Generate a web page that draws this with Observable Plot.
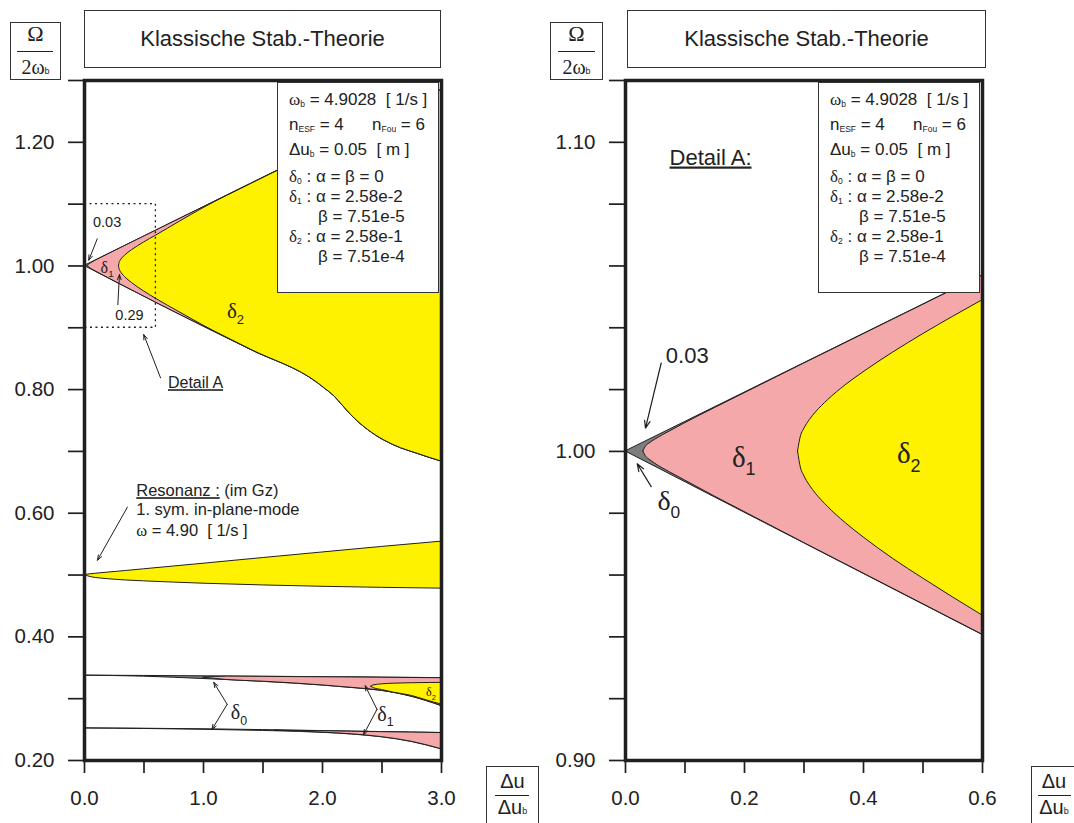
<!DOCTYPE html>
<html><head><meta charset="utf-8">
<script src="https://cdn.jsdelivr.net/npm/d3@7"></script>
<script src="https://cdn.jsdelivr.net/npm/@observablehq/plot@0.6"></script>
<style>
body{margin:0;background:#fff;}
#wrap{position:relative;width:1074px;height:823px;overflow:hidden;font-family:"Liberation Sans",Arial,sans-serif;color:#222;}
.box{position:absolute;border:1px solid #333;background:#fff;box-sizing:border-box;}
.title{display:flex;align-items:center;justify-content:center;font-size:22px;}
.g{font-family:"Liberation Serif","Times New Roman",serif;}
.leg div{position:absolute;white-space:nowrap;font-size:17px;line-height:18px;}
.leg sub{font-size:8.5px;vertical-align:-2px;line-height:0;}
.frac div{position:absolute;}
</style></head>
<body><div id="wrap">
<div class="box title" style="left:84px;top:10px;width:357px;height:58px">Klassische Stab.-Theorie</div>
<div class="box title" style="left:627px;top:10px;width:359px;height:58px">Klassische Stab.-Theorie</div>

<div class="box frac" style="left:10px;top:22px;width:51px;height:58px">
  <div class="g" style="left:0;width:100%;top:0px;text-align:center;font-size:22px;line-height:22px">Ω</div>
  <div style="left:6px;width:36px;top:28px;border-top:1.5px solid #222"></div>
  <div class="g" style="left:0;width:100%;top:33px;text-align:center;font-size:20px;line-height:22px">2ω<span style="font-family:'Liberation Sans';font-size:9px">b</span></div>
</div>
<div class="box frac" style="left:550px;top:22px;width:53px;height:58px">
  <div class="g" style="left:0;width:100%;top:0px;text-align:center;font-size:22px;line-height:22px">Ω</div>
  <div style="left:7px;width:37px;top:28px;border-top:1.5px solid #222"></div>
  <div class="g" style="left:0;width:100%;top:33px;text-align:center;font-size:20px;line-height:22px">2ω<span style="font-family:'Liberation Sans';font-size:9px">b</span></div>
</div>
<div class="box frac" style="left:486px;top:766px;width:53px;height:62px">
  <div style="left:0;width:100%;top:3px;text-align:center;font-size:20px;line-height:22px">Δu</div>
  <div style="left:8px;width:34px;top:28px;border-top:1.5px solid #222"></div>
  <div style="left:0;width:100%;top:29px;text-align:center;font-size:20px;line-height:22px">Δu<span style="font-size:9px">b</span></div>
</div>
<div class="box frac" style="left:1031px;top:766px;width:53px;height:62px">
  <div style="left:0;width:44px;top:3px;text-align:center;font-size:20px;line-height:22px">Δu</div>
  <div style="left:6px;width:33px;top:28px;border-top:1.5px solid #222"></div>
  <div style="left:0;width:44px;top:29px;text-align:center;font-size:20px;line-height:22px">Δu<span style="font-size:9px">b</span></div>
</div>

<div class="box leg" style="left:277px;top:82px;width:162px;height:211px">
<div style="left:11px;top:8px"><span class="g">ω</span><sub>b</sub> = 4.9028&nbsp; [ 1/s ]</div>
<div style="left:11px;top:33px">n<sub>ESF</sub> = 4</div>
<div style="left:94px;top:33px">n<sub>Fou</sub> = 6</div>
<div style="left:11px;top:58px">Δu<sub>b</sub> = 0.05&nbsp; [ m ]</div>
<div style="left:11px;top:85px"><span class="g">δ</span><sub>0</sub> : α = β = 0</div>
<div style="left:11px;top:105px"><span class="g">δ</span><sub>1</sub> : α = 2.58e-2</div>
<div style="left:40px;top:125px">β = 7.51e-5</div>
<div style="left:11px;top:145px"><span class="g">δ</span><sub>2</sub> : α = 2.58e-1</div>
<div style="left:40px;top:165px">β = 7.51e-4</div>
</div>
<div class="box leg" style="left:818px;top:82px;width:162px;height:211px">
<div style="left:11px;top:8px"><span class="g">ω</span><sub>b</sub> = 4.9028&nbsp; [ 1/s ]</div>
<div style="left:11px;top:33px">n<sub>ESF</sub> = 4</div>
<div style="left:94px;top:33px">n<sub>Fou</sub> = 6</div>
<div style="left:11px;top:58px">Δu<sub>b</sub> = 0.05&nbsp; [ m ]</div>
<div style="left:11px;top:85px"><span class="g">δ</span><sub>0</sub> : α = β = 0</div>
<div style="left:11px;top:105px"><span class="g">δ</span><sub>1</sub> : α = 2.58e-2</div>
<div style="left:40px;top:125px">β = 7.51e-5</div>
<div style="left:11px;top:145px"><span class="g">δ</span><sub>2</sub> : α = 2.58e-1</div>
<div style="left:40px;top:165px">β = 7.51e-4</div>
</div>
</div>
<script>
// ---------- data ----------
// main instability wedge at Omega/2wb = 1.0  (delta0 = outer, delta1, delta2)
const mainX0  = [0, 0.6, 1.0, 1.4, 1.96, 2.03, 2.10, 2.17, 2.24, 2.31, 2.38, 2.45, 2.52, 2.66, 2.80, 2.90, 3.0];
const mainHi0 = [1.0, 1.057, 1.095, 1.133, 1.1862, 1.1929, 1.1995, 1.2062, 1.2128, 1.2195, 1.2261, 1.2328, 1.2394, 1.2527, 1.266, 1.2755, 1.285];
const mainLo0 = [1.0, 0.9406, 0.902, 0.8640, 0.8105, 0.800, 0.789, 0.774, 0.759, 0.746, 0.735, 0.7255, 0.7175, 0.705, 0.696, 0.6895, 0.6835];

const mainX1  = [0.03, 0.035, 0.04, 0.05, 0.075, 0.1, 0.15, 0.2, 0.3, 0.4, 0.6, 1.0, 1.4, 1.96, 2.03, 2.10, 2.17, 2.24, 2.31, 2.38, 2.45, 2.52, 2.66, 2.80, 2.90, 3.0];
const mainHi1 = [1.0, 1.0017, 1.0025, 1.0038, 1.0065, 1.0091, 1.0140, 1.0188, 1.0284, 1.0379, 1.0569, 1.0949, 1.1329, 1.1861, 1.1928, 1.1994, 1.2061, 1.2127, 1.2194, 1.2260, 1.2327, 1.2393, 1.2526, 1.2659, 1.2754, 1.2849];
const mainLo1 = [1.0, 0.9982, 0.9974, 0.9960, 0.9932, 0.9906, 0.9854, 0.9804, 0.9704, 0.9605, 0.9407, 0.9021, 0.8641, 0.8106, 0.8001, 0.7891, 0.7741, 0.7591, 0.7461, 0.7351, 0.7256, 0.7176, 0.7051, 0.6961, 0.6896, 0.6836];

const mainX2  = [0.29, 0.295, 0.30, 0.31, 0.32, 0.34, 0.37, 0.40, 0.45, 0.50, 0.55, 0.60, 0.80, 1.0, 1.4, 1.96, 2.03, 2.10, 2.17, 2.24, 2.31, 2.38, 2.45, 2.52, 2.66, 2.80, 2.90, 3.0];
const mainHi2 = [1.0, 1.0050, 1.0071, 1.0102, 1.0126, 1.0165, 1.0214, 1.0256, 1.0320, 1.0379, 1.0435, 1.0489, 1.0715, 1.0935, 1.1325, 1.1857, 1.1924, 1.1990, 1.2057, 1.2123, 1.2190, 1.2256, 1.2323, 1.2389, 1.2522, 1.2655, 1.2750, 1.2845];
const mainLo2 = [1.0, 0.9945, 0.9922, 0.9889, 0.9863, 0.9821, 0.9768, 0.9722, 0.9652, 0.9589, 0.9528, 0.9469, 0.9250, 0.9035, 0.8645, 0.8107, 0.8002, 0.7892, 0.7742, 0.7592, 0.7462, 0.7352, 0.7257, 0.7177, 0.7052, 0.6962, 0.6897, 0.6837];

// resonance wedge at 0.5 (delta2)
const resX  = [0, 0.05, 0.1, 0.2, 0.35, 0.5, 0.75, 1.0, 1.5, 2.0, 2.5, 3.0];
const resHi = [0.5, 0.5012, 0.5022, 0.5040, 0.5066, 0.5093, 0.5138, 0.5183, 0.5275, 0.5365, 0.5455, 0.5540];
const resLo = [0.5, 0.4968, 0.4952, 0.4932, 0.4912, 0.4898, 0.4878, 0.4860, 0.4832, 0.4810, 0.4793, 0.4780];

// band near 0.335
const b1X0  = [0, 0.5, 1.0, 1.5, 2.0, 2.25, 2.5, 2.75, 3.0];
const b1Hi0 = [0.3373, 0.3368, 0.3362, 0.3355, 0.3348, 0.3345, 0.3341, 0.3337, 0.3333];
const b1Lo0 = [0.3373, 0.3356, 0.3318, 0.3272, 0.3212, 0.3172, 0.3125, 0.3030, 0.2880];
const b1X1  = [1.0, 1.2, 1.5, 2.0, 2.25, 2.5, 2.75, 3.0];
const b1Hi1 = [0.3340, 0.3357, 0.3353, 0.3346, 0.3343, 0.3339, 0.3335, 0.3331];
const b1Lo1 = [0.3340, 0.3302, 0.3275, 0.3215, 0.3175, 0.3128, 0.3033, 0.2884];
const b1X2  = [2.41, 2.43, 2.5, 2.6, 2.75, 2.9, 3.0];
const b1Hi2 = [0.3193, 0.3215, 0.3232, 0.3243, 0.3250, 0.3254, 0.3256];
const b1Lo2 = [0.3193, 0.3172, 0.3140, 0.3097, 0.3045, 0.2958, 0.2905];

// band near 0.25
const b2X0  = [0, 0.5, 1.0, 1.5, 2.0, 2.25, 2.5, 2.75, 3.0];
const b2Hi0 = [0.2519, 0.2514, 0.2505, 0.2492, 0.2476, 0.2468, 0.2460, 0.2453, 0.2446];
const b2Lo0 = [0.2519, 0.2510, 0.2497, 0.2478, 0.2448, 0.2420, 0.2375, 0.2300, 0.2180];
const b2X1  = [1.6, 2.0, 2.25, 2.5, 2.75, 3.0];
const b2Hi1 = [0.2483, 0.2474, 0.2466, 0.2458, 0.2451, 0.2444];
const b2Lo1 = [0.2483, 0.2451, 0.2423, 0.2378, 0.2303, 0.2183];

// axes
const xDomainL = [0, 3], yDomainL = [0.2, 1.3];
const xTicksL = [0, 0.5, 1, 1.5, 2, 2.5, 3];
const xTickLabelsL = ["0.0", "", "1.0", "", "2.0", "", "3.0"];
const yTicksL = [0.2, 0.3, 0.4, 0.5, 0.6, 0.7, 0.8, 0.9, 1.0, 1.1, 1.2, 1.3];
const yTickLabelsL = ["0.20", "", "0.40", "", "0.60", "", "0.80", "", "1.00", "", "1.20", ""];
const xDomainR = [0, 0.6], yDomainR = [0.9, 1.12];
const xTicksR = [0, 0.1, 0.2, 0.3, 0.4, 0.5, 0.6];
const xTickLabelsR = ["0.0", "", "0.2", "", "0.4", "", "0.6"];
const yTicksR = [0.90, 0.92, 0.94, 0.96, 0.98, 1.00, 1.02, 1.04, 1.06, 1.08, 1.10, 1.12];
const yTickLabelsR = ["0.90", "", "", "", "", "1.00", "", "", "", "", "1.10", ""];
const detailBox = [{x1: 0, x2: 0.6, y1: 0.9, y2: 1.1}];

// annotations
const labelsL = [
  {t: "0.03", x: 0.19, y: 1.0698, size: 14.5},
  {t: "δ_{1}", x: 0.19, y: 0.997, size: 16},
  {t: "0.29", x: 0.378, y: 0.9207, size: 14.5},
  {t: "~{Detail A}", x: 0.933, y: 0.8105, size: 16},
  {t: "δ_{2}", x: 1.269, y: 0.9266, size: 21},
  {t: "δ_{0}", x: 1.298, y: 0.2773, size: 20},
  {t: "δ_{1}", x: 2.529, y: 0.2746, size: 20},
  {t: "δ_{2}", x: 2.911, y: 0.3102, size: 12}
];
const notesL = [
  {t: "~{Resonanz :} (im Gz)", x: 0.435, y: 0.6361},
  {t: "1. sym. in-plane-mode", x: 0.435, y: 0.6057},
  {t: "ω = 4.90  [ 1/s ]", x: 0.435, y: 0.5718}
];
const arrowsL = [
  {x1: 0.107, y1: 1.0439, x2: 0.036, y2: 1.0093},
  {x1: 0.28, y1: 0.9374, x2: 0.294, y2: 0.986},
  {x1: 0.639, y1: 0.819, x2: 0.498, y2: 0.8889},
  {x1: 0.361, y1: 0.610, x2: 0.109, y2: 0.524},
  {x1: 1.199, y1: 0.2909, x2: 1.086, y2: 0.3264},
  {x1: 1.199, y1: 0.2909, x2: 1.071, y2: 0.2501},
  {x1: 2.458, y1: 0.2828, x2: 2.359, y2: 0.3209},
  {x1: 2.458, y1: 0.2828, x2: 2.345, y2: 0.2418}
];
const labelsR = [
  {t: "~{Detail A:}", x: 0.1429, y: 1.0951, size: 22},
  {t: "0.03", x: 0.1037, y: 1.031, size: 22},
  {t: "δ_{0}", x: 0.0728, y: 0.984, size: 28},
  {t: "δ_{1}", x: 0.1988, y: 0.998, size: 29},
  {t: "δ_{2}", x: 0.4761, y: 0.9991, size: 29}
];
const arrowsR = [
  {x1: 0.060, y1: 1.0286, x2: 0.0336, y2: 1.0075},
  {x1: 0.0432, y1: 0.9886, x2: 0.0197, y2: 0.996}
];

// ---------- drawing ----------
const INK = "#1f1f1f", YELLOW = "#fff200", PINK = "#f5a8aa", GRAY = "#7d7d7d";
const SERIF = "'Liberation Serif','Times New Roman',serif";
const rows = (xs, lo, hi) => xs.map((x, i) => ({x, lo: lo[i], hi: hi[i]}));
const area = (data, fill) => Plot.areaY(data, {x: "x", y1: "lo", y2: "hi", fill, stroke: INK, strokeWidth: 1, curve: "monotone-x"});
const labelMap = (ticks, labels) => new Map(ticks.map((d, i) => [d, labels[i]]));

function axes(xT, xL, yT, yL) {
  const xm = labelMap(xT, xL), ym = labelMap(yT, yL);
  return [
    Plot.axisX(xT, {tickSize: 13, tickPadding: 17, tickFormat: d => xm.get(d) ?? "", fontSize: 20.5, strokeWidth: 1.7, label: null, stroke: INK, fill: "#222"}),
    Plot.axisY(yT, {tickSize: 16, tickPadding: 14, tickFormat: d => ym.get(d) ?? "", fontSize: 20.5, strokeWidth: 1.7, label: null, stroke: INK, fill: "#222"})
  ];
}
const baseStyle = {fontFamily: "'Liberation Sans', Arial, sans-serif", fontSize: "19px", color: "#222", background: "transparent", overflow: "visible"};

const leftPlot = Plot.plot({
  width: 460, height: 823, marginLeft: 84, marginRight: 19, marginTop: 80, marginBottom: 63,
  x: {domain: xDomainL}, y: {domain: yDomainL},
  style: baseStyle,
  marks: [
    area(rows(mainX0, mainLo0, mainHi0), GRAY),
    area(rows(mainX1, mainLo1, mainHi1), PINK),
    area(rows(mainX2, mainLo2, mainHi2), YELLOW),
    area(rows(resX, resLo, resHi), YELLOW),
    area(rows(b1X0, b1Lo0, b1Hi0), GRAY),
    area(rows(b1X1, b1Lo1, b1Hi1), PINK),
    area(rows(b1X2, b1Lo2, b1Hi2), YELLOW),
    area(rows(b2X0, b2Lo0, b2Hi0), GRAY),
    area(rows(b2X1, b2Lo1, b2Hi1), PINK),
    Plot.rect(detailBox, {x1: "x1", x2: "x2", y1: "y1", y2: "y2", fill: "none", stroke: INK, strokeWidth: 1.3, strokeDasharray: "2,3.5"}),
    Plot.arrow(arrowsL, {x1: "x1", y1: "y1", x2: "x2", y2: "y2", stroke: INK, strokeWidth: 1, headLength: 8, headAngle: 40}),
    Plot.text(labelsL, {x: "x", y: "y", text: "t", fontSize: d => d.size, fill: "#222"}),
    Plot.text(notesL, {x: "x", y: "y", text: "t", fontSize: 16.5, textAnchor: "start", fill: "#222"}),
    ...axes(xTicksL, xTickLabelsL, yTicksL, yTickLabelsL),
    Plot.frame({stroke: INK, strokeWidth: 3.5})
  ]
});

const inR = d => d.x <= xDomainR[1] + 1e-9;
const rightPlot = Plot.plot({
  width: 460, height: 823, marginLeft: 85, marginRight: 18, marginTop: 80, marginBottom: 63,
  x: {domain: xDomainR}, y: {domain: yDomainR},
  style: baseStyle,
  marks: [
    area(rows(mainX0, mainLo0, mainHi0).filter(inR), GRAY),
    area(rows(mainX1, mainLo1, mainHi1).filter(inR), PINK),
    area(rows(mainX2, mainLo2, mainHi2).filter(inR), YELLOW),
    Plot.arrow(arrowsR, {x1: "x1", y1: "y1", x2: "x2", y2: "y2", stroke: INK, strokeWidth: 1.2, headLength: 10, headAngle: 40}),
    Plot.text(labelsR, {x: "x", y: "y", text: "t", fontSize: d => d.size, fill: "#222"}),
    ...axes(xTicksR, xTickLabelsR, yTicksR, yTickLabelsR),
    Plot.frame({stroke: INK, strokeWidth: 3.5})
  ]
});

function richText(svg) {
  svg.querySelectorAll("text").forEach(t => {
    if (t.querySelector("tspan")) return;
    const s = t.textContent;
    if (!/[_~δωΩ]/.test(s)) return;
    const fs = parseFloat(t.getAttribute("font-size")) || parseFloat(getComputedStyle(t).fontSize) || 16;
    t.textContent = "";
    let shifted = false;
    const re = /_\{([^}]*)\}|~\{([^}]*)\}|([δωΩ])|([^_~δωΩ]+)/g;
    let m;
    while ((m = re.exec(s))) {
      const sp = document.createElementNS("http://www.w3.org/2000/svg", "tspan");
      if (m[1] !== undefined) {
        sp.textContent = m[1];
        sp.setAttribute("font-size", fs * 0.62);
        sp.setAttribute("dy", fs * 0.28);
        shifted = true;
        t.appendChild(sp);
        continue;
      }
      if (shifted) { sp.setAttribute("dy", -fs * 0.28); shifted = false; }
      if (m[2] !== undefined) { sp.textContent = m[2]; sp.setAttribute("text-decoration", "underline"); sp.style.textDecoration = "underline"; }
      else if (m[3] !== undefined) { sp.textContent = m[3]; sp.setAttribute("font-family", SERIF); }
      else sp.textContent = m[4];
      t.appendChild(sp);
    }
  });
}

const wrap = document.getElementById("wrap");
[[leftPlot, 0], [rightPlot, 540]].forEach(([svg, left]) => {
  svg.style.position = "absolute";
  svg.style.left = left + "px";
  svg.style.top = "0px";
  wrap.insertBefore(svg, wrap.firstChild);
  richText(svg);
});
</script>
</body></html>
